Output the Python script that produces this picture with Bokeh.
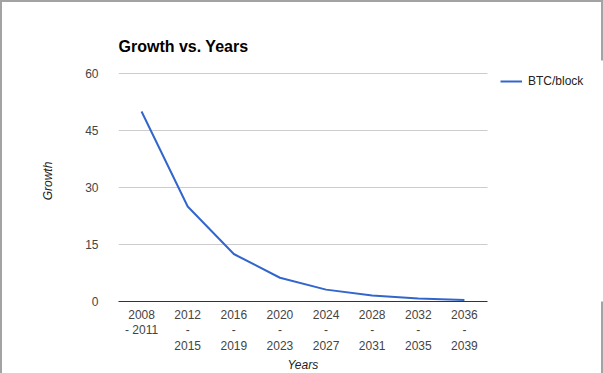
from bokeh.plotting import figure
from bokeh.models import Legend, LegendItem, FixedTicker, Range1d, Title
from bokeh.embed import file_html
from bokeh.resources import INLINE

periods = ["2008\n- 2011", "2012\n-\n2015", "2016\n-\n2019", "2020\n-\n2023",
           "2024\n-\n2027", "2028\n-\n2031", "2032\n-\n2035", "2036\n-\n2039"]
btc_per_block = [50, 25, 12.5, 6.25, 3.125, 1.5625, 0.78125, 0.390625]
y_ticks = [0, 15, 30, 45, 60]

FONT = "Liberation Sans"

n = len(periods)
x_pos = list(range(n))
# plotting area spans the categories; extra room to the right holds the legend
x_end = -0.5 + n * (485 / 369)

p = figure(width=603, height=373, x_range=Range1d(-0.5, x_end),
           y_range=Range1d(0, 63.42), output_backend="svg", toolbar_location=None,
           min_border_left=118, min_border_right=0, min_border_top=60,
           min_border_bottom=72, title="Growth vs. Years")

p.border_fill_color = None
p.styles = {"box-shadow": "inset 2px 2px 0 #a3a3a3, inset -2px 0 0 #a3a3a3"}

p.title.text_font = FONT
p.title.text_font_size = "16px"
p.title.text_font_style = "bold"
p.title.text_color = "#000000"
p.title.standoff = 11

p.outline_line_color = None
p.xgrid.grid_line_color = None
p.ygrid.grid_line_color = None

# horizontal gridlines limited to the category span
p.segment(x0=[-0.5] * len(y_ticks), x1=[n - 0.5] * len(y_ticks), y0=y_ticks, y1=y_ticks,
          line_color="#cccccc", line_width=1)

r = p.line(x=x_pos, y=btc_per_block, line_color="#3366cc", line_width=2)

ya = p.yaxis[0]
ya.ticker = FixedTicker(ticks=y_ticks)
ya.axis_line_color = None
ya.major_tick_line_color = None
ya.minor_tick_line_color = None
ya.major_tick_out = 0
ya.major_label_standoff = 20
ya.major_label_text_font = FONT
ya.major_label_text_font_size = "12px"
ya.major_label_text_color = "#444444"
ya.axis_label = "Growth"
ya.axis_label_text_font = FONT
ya.axis_label_text_font_size = "12px"
ya.axis_label_text_font_style = "italic"
ya.axis_label_text_color = "#222222"
ya.axis_label_standoff = 27

xa = p.xaxis[0]
xa.ticker = FixedTicker(ticks=x_pos)
xa.major_label_overrides = {i: lab for i, lab in zip(x_pos, periods)}
xa.bounds = (-0.5, n - 0.5)
xa.axis_line_color = "#333333"
xa.major_tick_line_color = None
xa.minor_tick_line_color = None
xa.major_tick_out = 0
xa.major_tick_in = 0
xa.minor_tick_out = 0
xa.minor_tick_in = 0
xa.major_label_standoff = 6
xa.major_label_text_font = FONT
xa.major_label_text_font_size = "12px"
xa.major_label_text_color = "#444444"
xa.major_label_text_line_height = 1.12

# x-axis title centred under the category span (not the whole frame)
x_title = Title(text="Years", align="left", offset=169, standoff=0,
                text_font=FONT, text_font_size="12px", text_font_style="italic",
                text_color="#222222")
p.add_layout(x_title, "below")

legend = Legend(items=[LegendItem(label="BTC/block", renderers=[r])],
                location=(382, 212), margin=0, padding=0, spacing=0,
                glyph_width=22, glyph_height=16, label_height=16,
                label_standoff=6, border_line_color=None,
                background_fill_alpha=0,
                label_text_font=FONT, label_text_font_size="12px",
                label_text_color="#222222")
p.add_layout(legend, "center")

open("out.html", "w").write(file_html(p, INLINE))
